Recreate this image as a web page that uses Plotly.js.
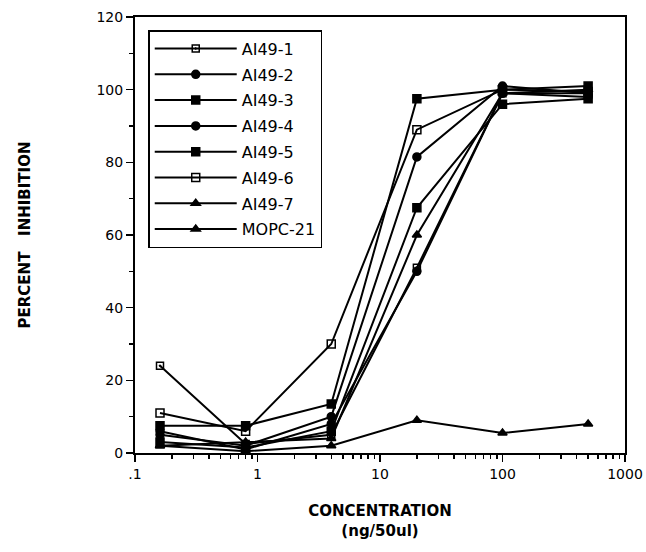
<!DOCTYPE html>
<html>
<head>
<meta charset="utf-8">
<script src="https://cdn.plot.ly/plotly-3.0.1.min.js"></script>
<style>html,body{margin:0;padding:0;background:#fff;}#chart{width:646px;height:552px;}</style>
</head>
<body>
<div id="chart"></div>
<script>
// Concentrations (ng/50ul)
const concentration = [0.16, 0.8, 4, 20, 100, 500];

// Percent inhibition per antibody
const ai49_1 = [24, 2.5, 5, 51, 99, 99];
const ai49_2 = [6, 1, 8, 50, 99, 98];
const ai49_3 = [7.5, 7.5, 13.5, 97.5, 100, 101];
const ai49_4 = [5, 2, 10, 81.5, 101, 99];
const ai49_5 = [3, 1.5, 6, 67.5, 96, 97.5];
const ai49_6 = [11, 6, 30, 89, 100, 99.5];
const ai49_7 = [2, 3, 4, 60, 99, 100];
const mopc21 = [2, 0.5, 2, 9, 5.5, 8];

const seriesNames = ["AI49-1", "AI49-2", "AI49-3", "AI49-4", "AI49-5", "AI49-6", "AI49-7", "MOPC-21"];
const seriesValues = [ai49_1, ai49_2, ai49_3, ai49_4, ai49_5, ai49_6, ai49_7, mopc21];
const seriesSymbols = ["square-open-dot", "circle", "square", "circle", "square", "square-open", "triangle-up", "triangle-up"];
const seriesSizes = [7, 8, 8, 8, 8, 8, 8, 8];

const xTickVals = [0.1, 1, 10, 100, 1000];
const xTickText = [".1", "1", "10", "100", "1000"];

const traces = seriesNames.map((name, i) => ({
  type: "scatter",
  mode: "lines+markers",
  name: name,
  legendgroup: name,
  x: concentration,
  y: seriesValues[i],
  line: {color: "#000", width: 2},
  marker: {symbol: seriesSymbols[i], size: seriesSizes[i], color: "#000", line: {color: "#000", width: 1.5}}
}));

const minorX = [];
for (let d = -1; d < 3; d++) for (let k = 2; k <= 9; k++) minorX.push(k * Math.pow(10, d));

const font = "'DejaVu Sans', 'Liberation Sans', Arial, sans-serif";
const layout = {
  width: 646, height: 552,
  margin: {l: 135, r: 21, t: 17, b: 99},
  paper_bgcolor: "#fff", plot_bgcolor: "#fff",
  font: {family: font, color: "#000", size: 14},
  showlegend: true,
  legend: {
    x: 0.027, y: 0.97, xanchor: "left", yanchor: "top",
    bgcolor: "#fff", bordercolor: "#000", borderwidth: 1.5,
    font: {family: font, size: 16, color: "#000"},
    itemwidth: 82, traceorder: "grouped", tracegroupgap: 2
  },
  xaxis: {
    type: "log", range: [-1, 3],
    tickmode: "array", tickvals: xTickVals, ticktext: xTickText,
    ticks: "outside", ticklen: 7, tickwidth: 1.5, tickcolor: "#000",
    showline: true, linecolor: "#000", linewidth: 2, mirror: true,
    showgrid: false, zeroline: false,
    tickfont: {family: font, size: 14},
    minor: {tickmode: "array", tickvals: minorX, ticks: "outside", ticklen: 4, tickwidth: 1.5, tickcolor: "#000", showgrid: false},
    title: {text: "<b>CONCENTRATION</b><br><b>(ng/50ul)</b>", font: {family: font, size: 15}, standoff: 25}
  },
  yaxis: {
    range: [0, 120], dtick: 20,
    ticks: "outside", ticklen: 7, tickwidth: 1.5, tickcolor: "#000",
    showline: true, linecolor: "#000", linewidth: 2, mirror: true,
    showgrid: false, zeroline: false,
    tickfont: {family: font, size: 14},
    minor: {dtick: 10, ticks: "outside", ticklen: 4, tickwidth: 1.5, tickcolor: "#000", showgrid: false},
    title: {text: "<b>PERCENT\u00A0\u00A0\u00A0INHIBITION</b>", font: {family: font, size: 15}, standoff: 62}
  }
};

Plotly.newPlot("chart", traces, layout, {displayModeBar: false, staticPlot: true});
</script>
</body>
</html>
